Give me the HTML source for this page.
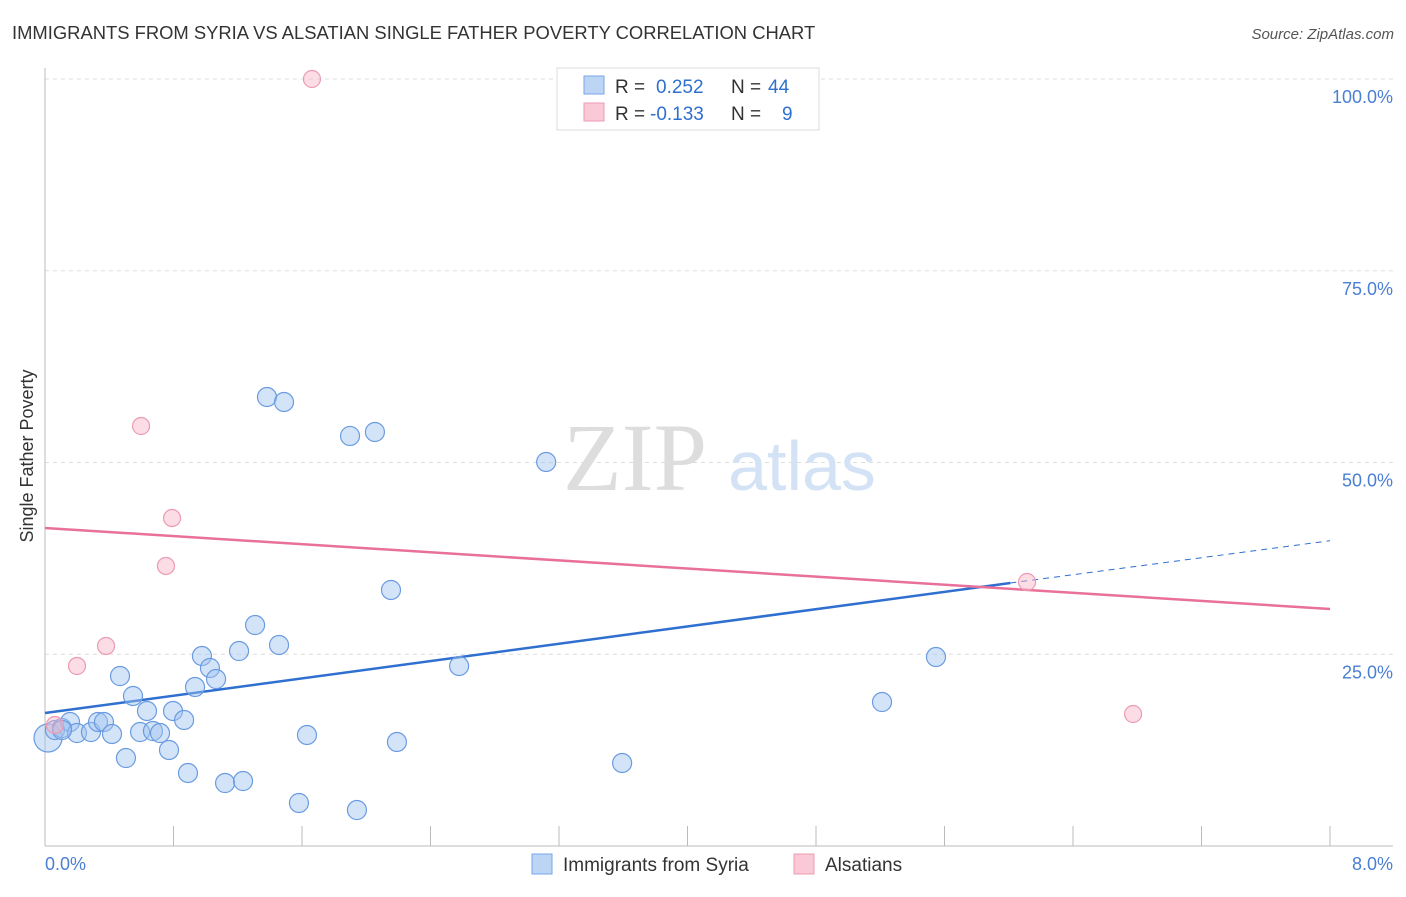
<!DOCTYPE html>
<html><head><meta charset="utf-8"><style>
body{margin:0;background:#fff;font-family:"Liberation Sans",sans-serif}
</style></head><body>
<svg width="1406" height="892" xmlns="http://www.w3.org/2000/svg" font-family="Liberation Sans, sans-serif">
<text x="12" y="39" font-size="18.4" fill="#333">IMMIGRANTS FROM SYRIA VS ALSATIAN SINGLE FATHER POVERTY CORRELATION CHART</text>
<text x="1394" y="39" font-size="15" fill="#555" text-anchor="end" font-style="italic">Source: ZipAtlas.com</text>
<g id="grid"></g>
<text x="635" y="490" font-size="96" fill="#ddd" text-anchor="middle" font-family="Liberation Serif, serif">ZIP</text>
<text x="802" y="490" font-size="70" fill="#d4e2f6" text-anchor="middle">atlas</text>
<line x1="45" y1="68" x2="45" y2="846" stroke="#bbb"/>
<line x1="45" y1="846" x2="1393" y2="846" stroke="#bbb"/>
<g id="ticks"></g>
<g id="lines"></g>
<g id="pts"></g>
<text x="33" y="456" font-size="18" fill="#333" text-anchor="middle" transform="rotate(-90 33 456)">Single Father Poverty</text>
<text x="45" y="870" font-size="18" fill="#4a7fd4">0.0%</text>
<text x="1393" y="870" font-size="18" fill="#4a7fd4" text-anchor="end">8.0%</text>
<g>
<rect x="557" y="68" width="262" height="62" fill="#fff" stroke="#ddd"/>
<rect x="584" y="76" width="20" height="18" fill="#bcd5f5" stroke="#7aa6e6"/>
<text x="615" y="93" font-size="19" fill="#333">R =</text>
<text x="656" y="93" font-size="19" fill="#2f6fd0">0.252</text>
<text x="731" y="93" font-size="19" fill="#333">N =</text>
<text x="768" y="93" font-size="19" fill="#2f6fd0">44</text>
<rect x="584" y="103" width="20" height="18" fill="#f9c9d7" stroke="#ee9ab2"/>
<text x="615" y="120" font-size="19" fill="#333">R =</text>
<text x="650" y="120" font-size="19" fill="#2f6fd0">-0.133</text>
<text x="731" y="120" font-size="19" fill="#333">N =</text>
<text x="782" y="120" font-size="19" fill="#2f6fd0">9</text>
</g>
<g>
<rect x="532" y="854" width="20" height="20" fill="#bcd5f5" stroke="#7aa6e6"/>
<text x="563" y="871" font-size="19" fill="#333">Immigrants from Syria</text>
<rect x="794" y="854" width="20" height="20" fill="#f9c9d7" stroke="#ee9ab2"/>
<text x="825" y="871" font-size="19" fill="#333">Alsatians</text>
</g>
</svg>
<script>
const yTicks=[25,50,75,100];
const yTickLabels=["25.0%","50.0%","75.0%","100.0%"];
const xTicks=[0.8,1.6,2.4,3.2,4.0,4.8,5.6,6.4,7.2,8.0];
const syriaX=[0.019,0.062,0.106,0.156,0.199,0.286,0.330,0.367,0.417,0.467,0.504,0.548,0.592,0.635,0.672,0.716,0.772,0.797,0.866,0.890,0.934,0.977,1.027,1.065,1.121,1.208,1.233,1.308,1.382,1.457,1.488,1.581,1.631,1.899,2.054,2.154,2.191,1.942,2.578,3.120,3.593,5.211,5.547,0.106];
const syriaY=[14.08,15.12,15.38,16.17,14.73,14.86,16.17,16.17,14.60,22.16,11.47,19.56,14.86,17.60,14.99,14.73,12.52,17.60,16.43,9.52,20.73,24.77,23.21,21.77,8.21,25.42,8.47,28.81,58.54,26.21,57.89,5.61,14.47,53.46,53.98,33.38,13.56,4.69,23.47,50.07,10.82,18.77,24.64,15.12];
const alsX=[1.662,0.598,0.791,0.753,0.380,0.199,6.114,6.774,0.062];
const alsY=[100,54.76,42.76,36.51,26.08,23.47,34.42,17.21,15.78];
const syriaTrend=[17.34,34.29,39.8];
const syriaTrendX=[0,6.01,8];
const alsTrend=[41.46,30.9];
const alsTrendX=[0,8];
const NS="http://www.w3.org/2000/svg";
const sx=v=>45+v*1285/8, sy=v=>846-v*7.67;
function mk(tag,attrs,parent){const e=document.createElementNS(NS,tag);for(const k in attrs)e.setAttribute(k,attrs[k]);document.getElementById(parent).appendChild(e);return e;}
yTicks.forEach((t,i)=>{
 const l=mk('line',{x1:45,x2:1393,y1:sy(t),y2:sy(t),stroke:'#ddd','stroke-dasharray':'4,4'},'grid');
 
 
 const tx=mk('text',{x:1393,y:sy(t)+24,'font-size':18,fill:'#4a7fd4','text-anchor':'end'},'grid');
 tx.textContent=yTickLabels[i];
 
 
});
xTicks.forEach(t=>{
 const l=mk('line',{x1:sx(t),x2:sx(t),y1:826,y2:846,stroke:'#bbb'},'ticks');
 
 
});
let l1=mk('line',{x1:sx(syriaTrendX[0]),y1:sy(syriaTrend[0]),x2:sx(syriaTrendX[1]),y2:sy(syriaTrend[1]),stroke:'#2f6fd0','stroke-width':2.5},'lines');


let l2=mk('line',{x1:sx(syriaTrendX[1]),y1:sy(syriaTrend[1]),x2:sx(syriaTrendX[2]),y2:sy(syriaTrend[2]),stroke:'#2f6fd0','stroke-width':1,'stroke-dasharray':'6,5'},'lines');


let l3=mk('line',{x1:sx(alsTrendX[0]),y1:sy(alsTrend[0]),x2:sx(alsTrendX[1]),y2:sy(alsTrend[1]),stroke:'#e8709a','stroke-width':2.5},'lines');


syriaX.forEach((x,i)=>{
 const c=mk('circle',{cx:sx(x),cy:sy(syriaY[i]),r:i==0?14:9.5,fill:'rgba(160,196,240,0.45)',stroke:'#6a9be0','stroke-width':1.2},'pts');
 
 
});
alsX.forEach((x,i)=>{
 const c=mk('circle',{cx:sx(x),cy:sy(alsY[i]),r:8.5,fill:'rgba(248,180,200,0.45)',stroke:'#ec9ab2','stroke-width':1.2},'pts');
 
 
});
</script>
</body></html>
